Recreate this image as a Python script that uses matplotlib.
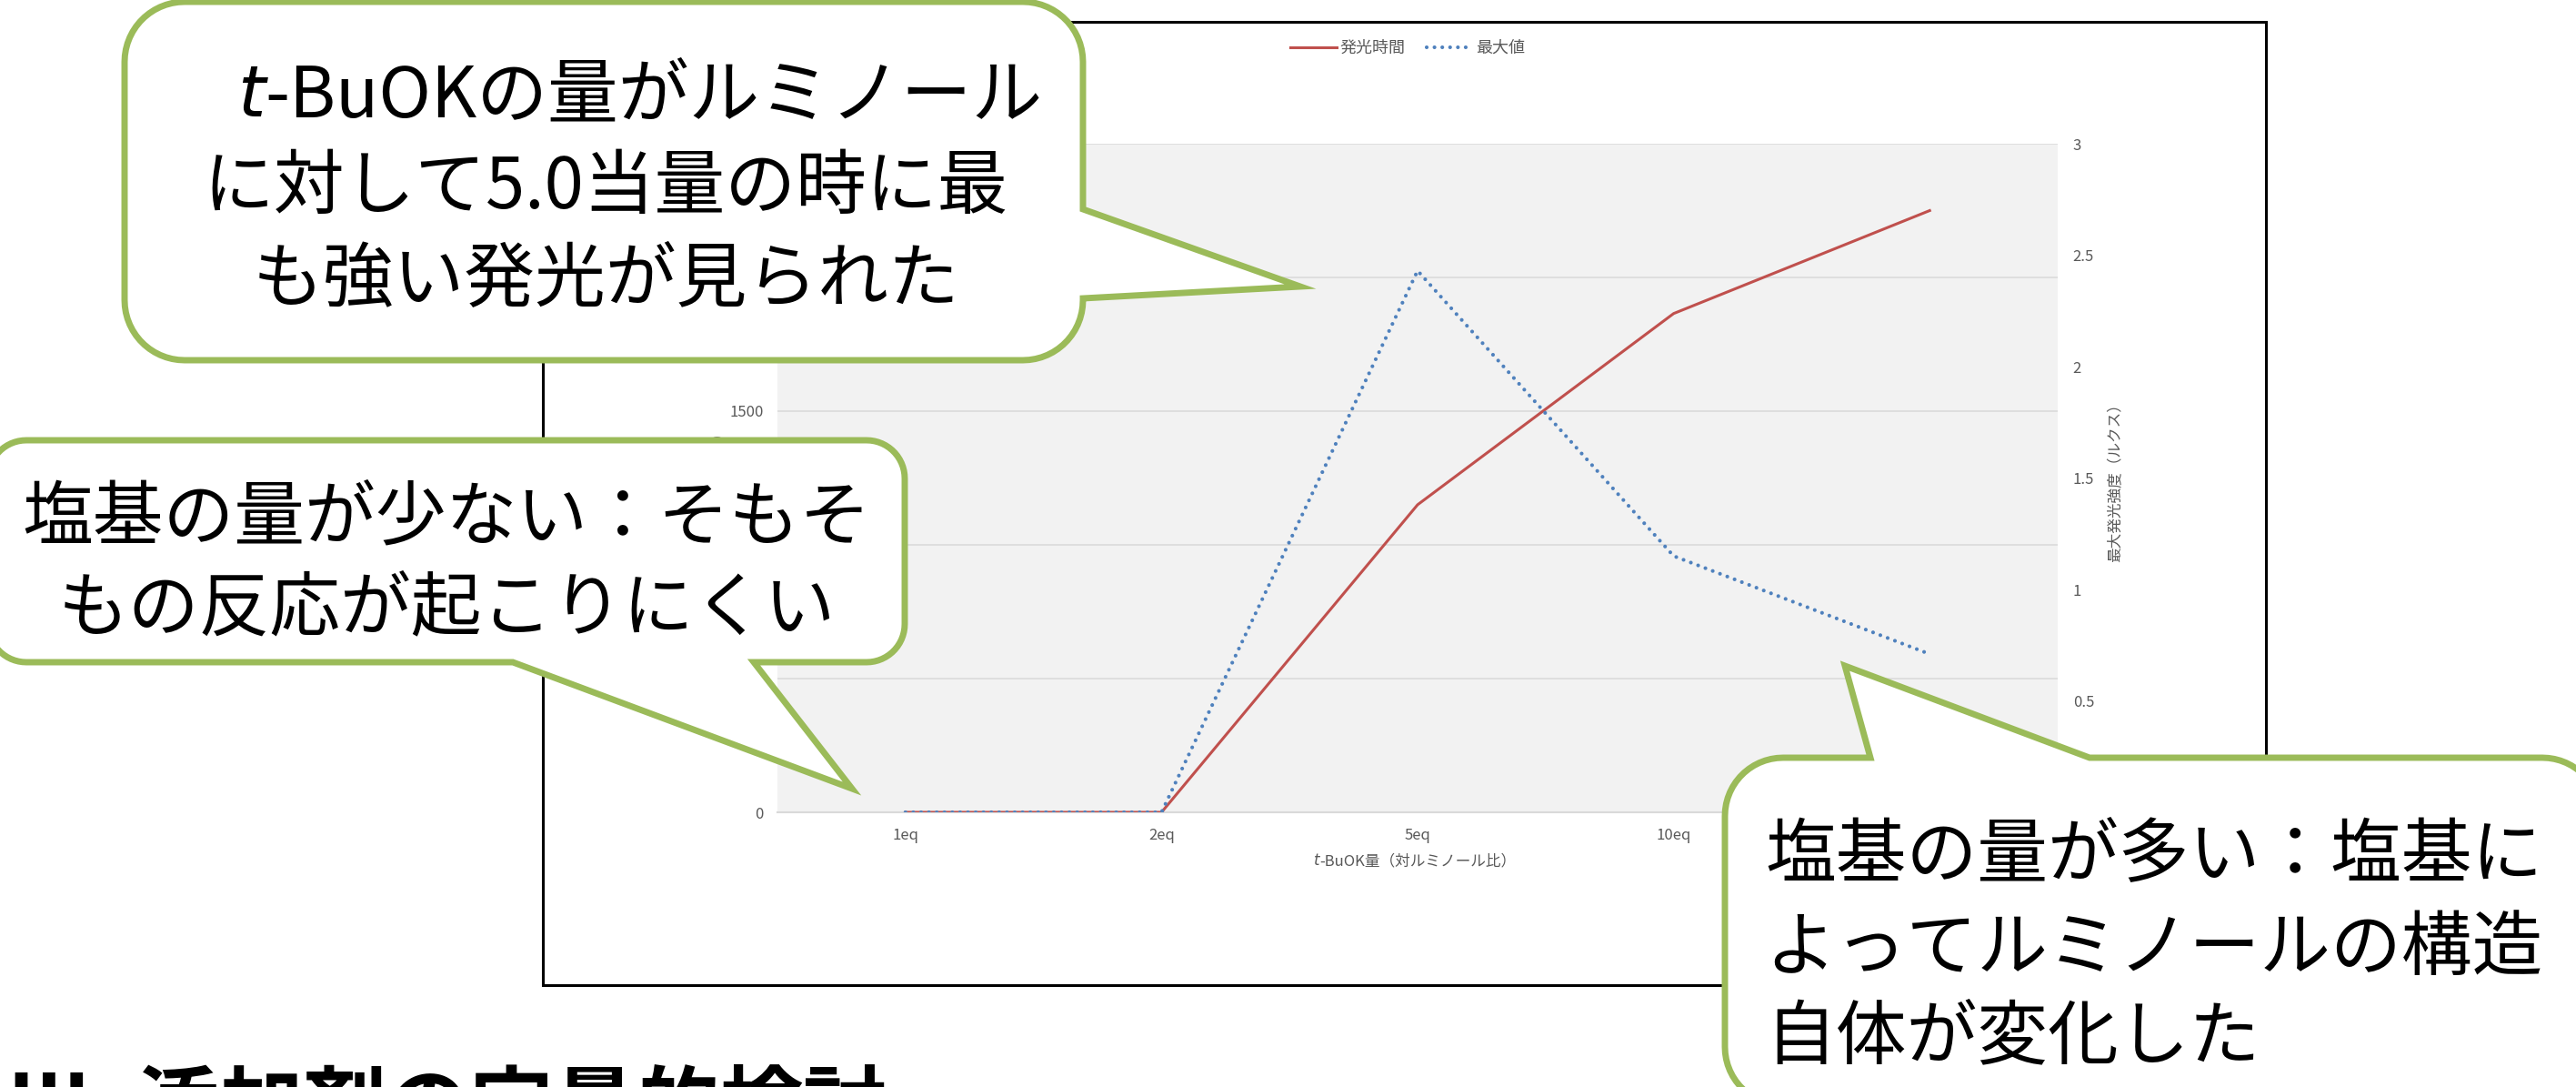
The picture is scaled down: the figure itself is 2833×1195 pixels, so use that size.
import matplotlib
matplotlib.use('Agg')
import matplotlib.pyplot as plt
from matplotlib.patches import Polygon, Rectangle
from matplotlib.lines import Line2D
import numpy as np

plt.rcParams['font.family'] = ['Noto Sans CJK JP', 'DejaVu Sans']

# t-BuOK の当量ごとの発光時間と最大発光強度
eq_labels = ['1eq', '2eq', '5eq', '10eq', '20eq']
emit_time = [0, 0, 1150, 1865, 2250]      # 発光時間 (秒)
max_lux = [0, 0, 2.43, 1.15, 0.71]         # 最大値 (ルクス)

W, H = 2833, 1195
RED = '#C0504D'
BLUE = '#4F81BD'
GREEN = '#9BBB59'
GREY_TXT = '#595959'
GRID = '#D9D9D9'
DOTS = (0, (0.01, 2.05))

fig = plt.figure(figsize=(W / 100, H / 100), dpi=100)

# plot area in pixels
L, R, T, B = 855, 2263, 158, 893
ax = fig.add_axes([L / W, 1 - B / H, (R - L) / W, (B - T) / H])
x = np.arange(len(eq_labels))
ax.plot(x, emit_time, color=RED, lw=2.2, zorder=3)
ax.set_xlim(-0.5, len(eq_labels) - 0.5)
ax.set_ylim(0, 2500)
ax.set_yticks(range(0, 2501, 500))
ax.set_xticks(x, eq_labels)
ax.set_facecolor('#F2F2F2')
ax.grid(axis='y', color=GRID, lw=1.1)
ax.set_axisbelow(True)
for s in ['top', 'right', 'left']:
    ax.spines[s].set_visible(False)
ax.spines['bottom'].set_color(GRID)
ax.spines['bottom'].set_linewidth(1.5)
ax.tick_params(length=0, labelsize=12, labelcolor=GREY_TXT)
ax.tick_params(axis='y', pad=11)
ax.tick_params(axis='x', pad=12)

ax2 = ax.twinx()
ax2.plot(x, max_lux, color=BLUE, lw=3, linestyle=DOTS,
         dash_capstyle='round', zorder=4)
ax2.set_ylim(0, 3)
ax2.set_yticks(np.arange(0, 3.01, 0.5))
ax2.yaxis.set_major_formatter(lambda v, p: f'{v:g}')
for s in ax2.spines.values():
    s.set_visible(False)
ax2.tick_params(length=0, labelsize=12, labelcolor=GREY_TXT, pad=12)

handles = [Line2D([], [], color=RED, lw=2.2),
           Line2D([], [], color=BLUE, lw=3, linestyle=DOTS,
                  dash_capstyle='round')]
fig.legend(handles, ['発光時間', '最大値'], loc='center', ncol=2,
           bbox_to_anchor=(1548 / W, 1 - 53 / H), frameon=False,
           fontsize=13, labelcolor=GREY_TXT, handlelength=2.8,
           handletextpad=0.2, columnspacing=1.3, borderpad=0)

# overlay in pixel units (y down) for frame, labels and callouts
ov = fig.add_axes([0, 0, 1, 1])
ov.set_xlim(0, W)
ov.set_ylim(H, 0)
ov.axis('off')
ov.set_zorder(10)

renderer = fig.canvas.get_renderer()


def text_run(parts, x, y, ha='left', **kw):
    objs = [ov.text(0, y, s, va='baseline', **kw, **extra) for s, extra in parts]
    widths = [t.get_window_extent(renderer).width for t in objs]
    start = x - sum(widths) / 2 if ha == 'center' else x
    for t, w in zip(objs, widths):
        t.set_x(start)
        start += w


ITAL = dict(family='DejaVu Sans', style='italic')
PLAIN = dict()

ov.add_patch(Rectangle((597, 24), 2492 - 597, 1083 - 24, fill=False,
                       ec='black', lw=2.2, zorder=2))

text_run([('t', ITAL), ('-BuOK量（対ルミノール比）', PLAIN)], 1556, 951,
         ha='center', fontsize=12, color=GREY_TXT, zorder=3)
ov.text(2327, 527, '最大発光強度（ルクス）', rotation=90, ha='center',
        va='center', fontsize=12, color=GREY_TXT, zorder=3)
ov.text(790, 525, '発光時間（秒）', rotation=90, ha='center',
        va='center', fontsize=12, color=GREY_TXT, zorder=3)


def callout(x0, y0, x1, y1, r, edge, base, tip):
    def arc(cx, cy, a0, a1):
        t = np.radians(np.linspace(a0, a1, 16))
        return list(zip(cx + r * np.cos(t), cy + r * np.sin(t)))
    pts = [(x0 + r, y0)]
    if edge == 'top':
        pts += [(base[0], y0), tip, (base[1], y0)]
    pts += arc(x1 - r, y0 + r, -90, 0)
    if edge == 'right':
        pts += [(x1, base[0]), tip, (x1, base[1])]
    pts += arc(x1 - r, y1 - r, 0, 90)
    if edge == 'bottom':
        pts += [(base[0], y1), tip, (base[1], y1)]
    pts += arc(x0 + r, y1 - r, 90, 180)
    pts += arc(x0 + r, y0 + r, 180, 270)
    ov.add_patch(Polygon(pts, closed=True, facecolor='white', edgecolor=GREEN,
                         lw=5, joinstyle='miter', zorder=5))


BIG = dict(fontsize=56, color='black', zorder=6)

callout(137, 2, 1191, 396, 66, 'right', (230, 328), (1430, 315))
text_run([('t', ITAL), ('-BuOKの量がルミノール', PLAIN)], 261, 128, **BIG)
ov.text(666, 229, 'に対して5.0当量の時に最', ha='center', va='baseline', **BIG)
ov.text(666, 330, 'も強い発光が見られた', ha='center', va='baseline', **BIG)

callout(-13, 484, 995, 728, 42, 'bottom', (829, 564), (937, 867))
ov.text(491, 592, '塩基の量が少ない：そもそ', ha='center', va='baseline', **BIG)
ov.text(491, 692, 'もの反応が起こりにくい', ha='center', va='baseline', **BIG)

callout(1897, 833, 2860, 1215, 64, 'top', (2057, 2298), (2029, 732))
ov.text(1941, 964, '塩基の量が多い：塩基に', ha='left', va='baseline', **BIG)
ov.text(1941, 1066, 'よってルミノールの構造', ha='left', va='baseline', **BIG)
ov.text(1941, 1163, '自体が変化した', ha='left', va='baseline', **BIG)

ov.text(8, 1248, 'Ⅲ. 添加剤の定量的検討', ha='left', va='baseline',
        fontsize=66, fontweight='bold', color='black', zorder=6)

fig.savefig('out.png', dpi=100)
